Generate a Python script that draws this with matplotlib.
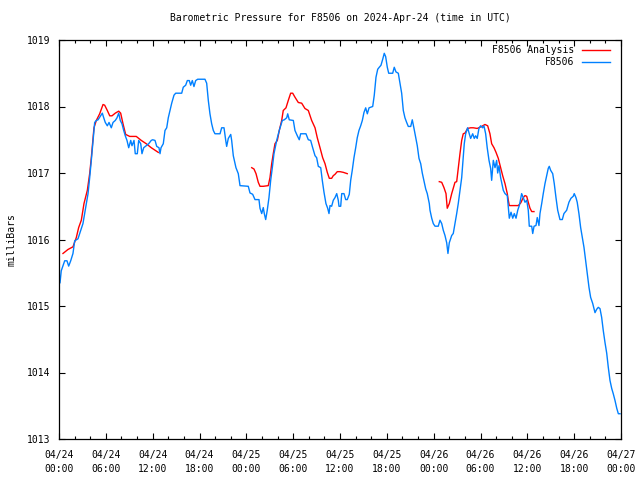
import numpy as np
import matplotlib
matplotlib.use("Agg")
import matplotlib.pyplot as plt
from matplotlib.ticker import MultipleLocator

# Hours since 2024-04-24 00:00 UTC, pressure in millibars
obs_hours = [0.13, 0.29, 0.73, 1.02, 1.24, 1.50, 1.79, 2.01, 2.43, 2.65, 3.07, 3.29, 3.50, 3.72, 3.93,
             4.14, 4.36, 4.57, 4.78, 5.00, 5.34, 5.55, 5.73, 5.93, 6.19, 6.41, 6.70, 6.92, 7.21, 7.43,
             7.65, 7.85, 8.07, 8.29, 8.49, 8.71, 8.93, 9.19, 9.35, 9.61, 9.77, 10.03, 10.21, 10.47, 10.63,
             10.85, 11.18, 11.49, 11.82, 12.00, 12.30, 12.52, 12.81, 12.94, 13.07, 13.36, 13.58, 13.80,
             14.00, 14.22, 14.44, 14.73, 14.95, 15.72, 15.92, 16.23, 16.44, 16.69, 16.87, 17.08, 17.29,
             17.51, 17.77, 18.70, 18.92, 19.13, 19.34, 19.56, 19.77, 19.98, 20.63, 20.84, 21.14, 21.36,
             21.48, 21.69, 22.00, 22.12, 22.33, 22.67, 22.97, 23.19, 24.25, 24.47, 24.81, 25.11, 25.62,
             25.75, 25.97, 26.17, 26.30, 26.48, 26.68, 26.90, 27.12, 27.33, 27.54, 27.89, 28.22, 28.61,
             28.86, 29.17, 29.30, 29.50, 30.02, 30.23, 30.53, 30.78, 30.96, 31.64, 31.94, 32.24, 32.50,
             32.80, 33.01, 33.22, 33.53, 33.73, 33.95, 34.20, 34.42, 34.59, 34.72, 34.93, 35.14, 35.36,
             35.58, 35.78, 35.87, 36.09, 36.22, 36.51, 36.73, 36.93, 37.19, 37.37, 37.57, 37.79, 38.01,
             38.21, 38.43, 38.65, 38.86, 39.07, 39.29, 39.50, 39.72, 40.19, 40.39, 40.61, 40.83, 41.03,
             41.25, 41.47, 41.67, 41.85, 42.06, 42.24, 42.75, 42.95, 43.17, 43.47, 43.68, 43.90, 44.11,
             44.32, 44.54, 44.75, 45.06, 45.26, 45.48, 45.70, 45.90, 46.12, 46.34, 46.54, 46.76, 46.98,
             47.18, 47.44, 47.53, 47.75, 47.95, 48.17, 48.59, 48.81, 49.03, 49.23, 49.45, 49.67, 49.83,
             50.00, 50.31, 50.51, 50.73, 50.95, 51.15, 51.37, 51.59, 51.79, 51.92, 52.10, 52.35, 52.56,
             52.74, 53.00, 53.20, 53.38, 53.58, 53.80, 54.02, 54.27, 54.44, 54.66, 54.86, 55.09, 55.30,
             55.43, 55.64, 55.86, 56.07, 56.20, 56.37, 56.58, 56.71, 56.92, 57.14, 57.43, 57.69, 57.91,
             58.13, 58.33, 58.55, 58.77, 58.97, 59.06, 59.27, 59.48, 59.70, 59.92, 60.12, 60.25, 60.56,
             60.69, 60.86, 61.11, 61.27, 61.49, 61.62, 61.84, 62.04, 62.26, 62.48, 62.68, 62.81, 62.99,
             63.25, 63.45, 63.67, 63.89, 64.18, 64.48, 64.69, 65.04, 65.33, 65.59, 65.88, 66.01, 66.23,
             66.39, 66.61, 66.83, 67.04, 67.26, 67.47, 67.68, 67.90, 68.11, 68.37, 68.67, 68.88, 69.09,
             69.31, 69.52, 69.73, 69.95, 70.17, 70.37, 70.59, 70.81, 71.01, 71.23, 71.46, 71.66, 71.87]
obs_mbar = [1015.35, 1015.53, 1015.68, 1015.68, 1015.60, 1015.68, 1015.79, 1015.98, 1016.01, 1016.09,
            1016.24, 1016.39, 1016.54, 1016.69, 1016.93, 1017.19, 1017.49, 1017.76, 1017.79, 1017.80,
            1017.86, 1017.90, 1017.83, 1017.76, 1017.71, 1017.76, 1017.68, 1017.76, 1017.79, 1017.83,
            1017.90, 1017.79, 1017.74, 1017.64, 1017.56, 1017.49, 1017.38, 1017.49, 1017.41, 1017.49,
            1017.29, 1017.29, 1017.49, 1017.44, 1017.29, 1017.38, 1017.41, 1017.44, 1017.49, 1017.50,
            1017.49, 1017.40, 1017.38, 1017.29, 1017.38, 1017.44, 1017.64, 1017.68, 1017.83, 1017.94,
            1018.05, 1018.17, 1018.20, 1018.20, 1018.29, 1018.32, 1018.39, 1018.39, 1018.32, 1018.39,
            1018.30, 1018.39, 1018.41, 1018.41, 1018.35, 1018.09, 1017.89, 1017.74, 1017.64, 1017.59,
            1017.59, 1017.68, 1017.68, 1017.49, 1017.40, 1017.52, 1017.58, 1017.49, 1017.26, 1017.08,
            1016.99, 1016.81, 1016.80, 1016.70, 1016.68, 1016.60, 1016.60, 1016.47, 1016.39, 1016.48,
            1016.39, 1016.30, 1016.44, 1016.63, 1016.89, 1017.08, 1017.29, 1017.49, 1017.64, 1017.79,
            1017.80, 1017.83, 1017.89, 1017.80, 1017.79, 1017.64, 1017.56, 1017.50, 1017.59, 1017.59,
            1017.50, 1017.49, 1017.38, 1017.26, 1017.23, 1017.10, 1017.08, 1016.89, 1016.71, 1016.54,
            1016.47, 1016.39, 1016.51, 1016.50, 1016.59, 1016.63, 1016.69, 1016.59, 1016.50, 1016.50,
            1016.69, 1016.69, 1016.60, 1016.60, 1016.68, 1016.89, 1017.04, 1017.23, 1017.38, 1017.53,
            1017.64, 1017.71, 1017.79, 1017.91, 1017.98, 1017.89, 1017.98, 1018.00, 1018.17, 1018.44,
            1018.56, 1018.59, 1018.62, 1018.71, 1018.80, 1018.75, 1018.59, 1018.50, 1018.50, 1018.59,
            1018.52, 1018.50, 1018.35, 1018.20, 1017.94, 1017.83, 1017.76, 1017.70, 1017.70, 1017.80,
            1017.67, 1017.53, 1017.41, 1017.22, 1017.14, 1017.00, 1016.88, 1016.76, 1016.69, 1016.54,
            1016.44, 1016.32, 1016.24, 1016.20, 1016.20, 1016.29, 1016.24, 1016.14, 1016.06, 1015.95,
            1015.79, 1015.95, 1016.06, 1016.09, 1016.24, 1016.39, 1016.54, 1016.74, 1016.93, 1017.23,
            1017.44, 1017.59, 1017.68, 1017.59, 1017.52, 1017.59, 1017.52, 1017.56, 1017.52, 1017.67,
            1017.71, 1017.68, 1017.71, 1017.59, 1017.38, 1017.19, 1017.07, 1016.89, 1017.19, 1017.08,
            1017.19, 1017.00, 1017.11, 1016.93, 1016.86, 1016.74, 1016.69, 1016.66, 1016.32, 1016.41,
            1016.32, 1016.39, 1016.32, 1016.44, 1016.51, 1016.56, 1016.69, 1016.63, 1016.56, 1016.59,
            1016.44, 1016.20, 1016.20, 1016.09, 1016.20, 1016.21, 1016.33, 1016.21, 1016.39, 1016.54,
            1016.69, 1016.84, 1016.96, 1017.07, 1017.10, 1017.04, 1016.99, 1016.84, 1016.63, 1016.44,
            1016.30, 1016.30, 1016.39, 1016.44, 1016.56, 1016.62, 1016.65, 1016.69, 1016.63, 1016.56,
            1016.39, 1016.18, 1016.03, 1015.88, 1015.68, 1015.49, 1015.28, 1015.13, 1015.04, 1014.90,
            1014.95, 1014.98, 1014.96, 1014.83, 1014.63, 1014.45, 1014.29, 1014.08, 1013.88, 1013.76,
            1013.68, 1013.58, 1013.46, 1013.38, 1013.38]

# Analysis series (NaN marks gaps between analysis periods)
ana_hours = [0.51, 1.15, 1.79, 2.22, 2.52, 2.86, 3.20, 3.63, 3.93, 4.14, 4.48, 4.78, 5.21, 5.64, 5.85,
             6.19, 6.50, 6.79, 7.21, 7.65, 7.90, 8.20, 8.54, 9.06, 9.90, 10.54, 11.18, 11.82, 12.08, 12.72,
             np.nan,
             24.69, 24.98, 25.24, 25.53, 25.75, 26.17, 26.81, 27.03, 27.25, 27.45, 27.67, 27.97, 28.22,
             28.53, 28.73, 29.08, 29.37, 29.68, 29.94, 30.23, 30.66, 31.09, 31.51, 31.94, 32.37, 32.80,
             33.09, 33.44, 33.78, 34.08, 34.37, 34.63, 34.93, 35.14, 35.36, 35.65, 36.00, 36.42, 36.93,
             np.nan,
             48.72, 49.03, 49.32, 49.58, 49.74, 50.00, 50.31, 50.51, 50.73, 50.95, 51.15, 51.37, 51.59,
             51.79, 52.01, 52.35, 52.74, 53.07, 53.58, 54.15, 54.57, 54.92, 55.21, 55.43, 55.73, 55.99,
             56.28, 56.58, 56.84, 57.14, 57.43, 57.56, 57.69, 58.84, 59.15, 59.48, 59.70, 59.92, 60.12,
             60.34, 60.56, 60.85]
ana_mbar = [1015.79, 1015.85, 1015.89, 1016.03, 1016.18, 1016.29, 1016.54, 1016.74, 1016.99, 1017.23,
            1017.68, 1017.79, 1017.89, 1018.03, 1018.02, 1017.94, 1017.86, 1017.86, 1017.90, 1017.93,
            1017.90, 1017.74, 1017.58, 1017.55, 1017.55, 1017.49, 1017.44, 1017.38, 1017.36, 1017.31,
            np.nan,
            1017.08, 1017.06, 1016.99, 1016.86, 1016.80, 1016.80, 1016.81, 1016.93, 1017.14, 1017.29,
            1017.44, 1017.49, 1017.64, 1017.79, 1017.94, 1017.98, 1018.09, 1018.20, 1018.20, 1018.14,
            1018.06, 1018.05, 1017.97, 1017.94, 1017.79, 1017.68, 1017.53, 1017.38, 1017.23, 1017.14,
            1017.01, 1016.92, 1016.92, 1016.96, 1016.98, 1017.02, 1017.02, 1017.01, 1016.99,
            np.nan,
            1016.87, 1016.86, 1016.78, 1016.69, 1016.47, 1016.54, 1016.69, 1016.77, 1016.86, 1016.87,
            1017.07, 1017.29, 1017.49, 1017.59, 1017.60, 1017.67, 1017.68, 1017.68, 1017.67, 1017.70,
            1017.73, 1017.71, 1017.59, 1017.44, 1017.38, 1017.31, 1017.22, 1017.08, 1016.96, 1016.84,
            1016.69, 1016.59, 1016.51, 1016.51, 1016.55, 1016.63, 1016.66, 1016.65, 1016.56, 1016.47,
            1016.42, 1016.42]

tick_hours = [0, 6, 12, 18, 24, 30, 36, 42, 48, 54, 60, 66, 72]
tick_labels = ["04/24\n00:00", "04/24\n06:00", "04/24\n12:00", "04/24\n18:00",
               "04/25\n00:00", "04/25\n06:00", "04/25\n12:00", "04/25\n18:00",
               "04/26\n00:00", "04/26\n06:00", "04/26\n12:00", "04/26\n18:00",
               "04/27\n00:00"]
y_ticks = [1013, 1014, 1015, 1016, 1017, 1018, 1019]

plt.rcParams['font.family'] = ['DejaVu Sans Mono']
FS = 7

fig = plt.figure(figsize=(6.4, 4.8), dpi=100)
ax = fig.add_axes([59/640, 1 - 439/480, 562/640, 399/480])

ax.plot(ana_hours, ana_mbar, color='#ff0000', lw=1.0, label='F8506 Analysis')
ax.plot(obs_hours, obs_mbar, color='#0080ff', lw=1.0, label='F8506')

ax.set_xlim(0, 72)
ax.set_ylim(1013, 1019)
ax.set_xticks(tick_hours)
ax.set_xticklabels(tick_labels, fontsize=FS, linespacing=1.45)
ax.xaxis.set_minor_locator(MultipleLocator(2))
ax.set_yticks(y_ticks)
ax.set_yticklabels([str(v) for v in y_ticks], fontsize=FS)

ax.tick_params(which='major', direction='in', length=4.5, width=0.8, top=True, right=True)
ax.tick_params(which='minor', direction='in', length=2.5, width=0.8, top=True, right=True)
ax.tick_params(axis='x', which='major', pad=8)
ax.tick_params(axis='y', which='major', pad=6)
for s in ax.spines.values():
    s.set_linewidth(0.9)

ax.set_ylabel('milliBars', fontsize=FS, labelpad=8)
ax.set_title('Barometric Pressure for F8506 on 2024-Apr-24 (time in UTC)', fontsize=FS, pad=14)

ax.legend(loc='upper right', bbox_to_anchor=(0.9804, 0.9875), frameon=False,
          markerfirst=False, fontsize=FS, handlelength=2.9, handletextpad=0.8,
          labelspacing=0.2, borderaxespad=0.0, borderpad=0.0)

fig.savefig('out.png', dpi=100)
